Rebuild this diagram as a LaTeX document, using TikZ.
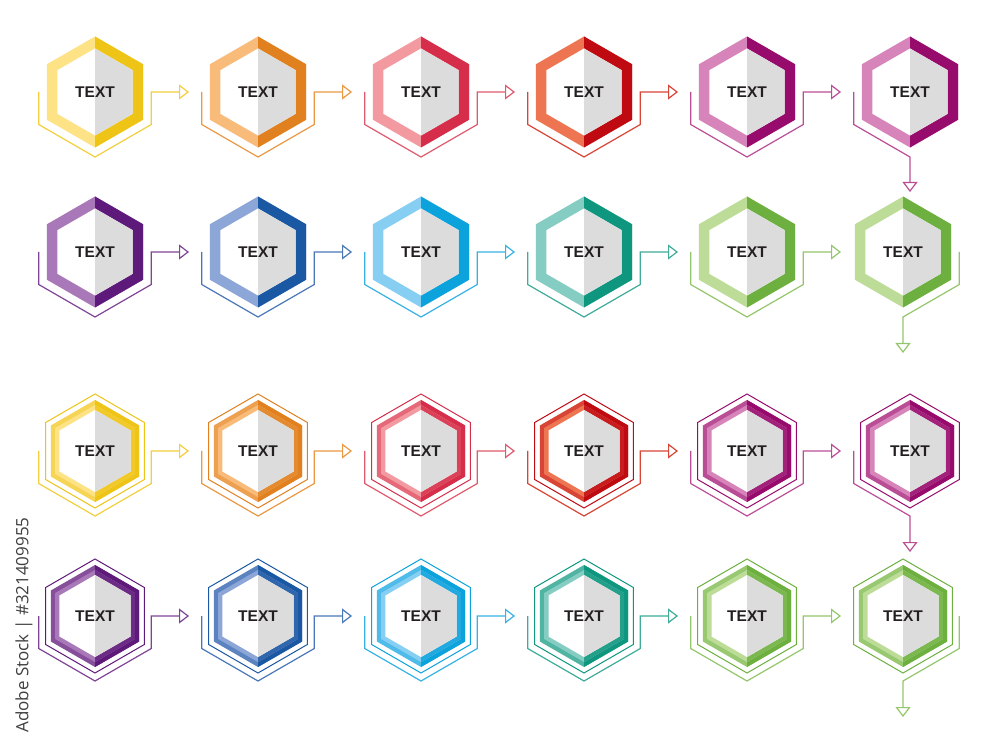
\documentclass[tikz,border=0pt]{standalone}
\usepackage{fontspec}
\setmainfont{Liberation Sans}
\newfontfamily\stockfont{Open Sans}
\usetikzlibrary{arrows.meta}

\definecolor{innergrey}{HTML}{DCDCDC}
\definecolor{textcol}{HTML}{231F20}
\definecolor{stockgrey}{HTML}{404040}
\definecolor{yelL}{HTML}{FDE286}
\definecolor{yelD}{HTML}{EEC416}
\definecolor{oraL}{HTML}{F8BB7A}
\definecolor{oraD}{HTML}{E1801F}
\definecolor{pinL}{HTML}{F29AA0}
\definecolor{pinD}{HTML}{D62E4A}
\definecolor{redL}{HTML}{EE7552}
\definecolor{redD}{HTML}{BF0A12}
\definecolor{magL}{HTML}{D684B9}
\definecolor{magD}{HTML}{970B6C}
\definecolor{purL}{HTML}{A978B8}
\definecolor{purD}{HTML}{5E1A7A}
\definecolor{bluL}{HTML}{8DA6D8}
\definecolor{bluD}{HTML}{1B58A3}
\definecolor{cyaL}{HTML}{86CFF3}
\definecolor{cyaD}{HTML}{0CA2DC}
\definecolor{teaL}{HTML}{85CCC2}
\definecolor{teaD}{HTML}{0E967E}
\definecolor{greL}{HTML}{BCDC98}
\definecolor{greD}{HTML}{6DB040}
\colorlet{yelK}{yelL!35!yelD}
\colorlet{oraK}{oraL!40!oraD}
\colorlet{pinK}{pinL!40!pinD}
\colorlet{redK}{redL!55!redD}
\colorlet{magK}{magL!55!magD}
\colorlet{purK}{purL!45!purD}
\colorlet{bluK}{bluL!40!bluD}
\colorlet{cyaK}{cyaL!35!cyaD}
\colorlet{teaK}{teaL!40!teaD}
\colorlet{greK}{greL!50!greD}

\def \outerR {55.5}
\def \innerR {43.5}
\def \frameR {57}
\def \bandR {51}
\def \midR {46}
\def \coreR {41}
\def \linkR {65}
\def \linkX {56.3}

\newcommand{\hexfull}[1]{(90:#1) -- (150:#1) -- (210:#1) -- (270:#1) -- (330:#1) -- (30:#1) -- cycle}
\newcommand{\halfright}[1]{(90:#1) -- (30:#1) -- (330:#1) -- (270:#1) -- cycle}

% name, centre, light, dark
\newcommand{\hexsolid}[4]{%
  \begin{scope}[shift={(#2)}]
    \fill[#3] \hexfull{\outerR};
    \fill[#4] \halfright{\outerR};
    \fill[white] \hexfull{\innerR};
    \fill[innergrey] \halfright{\innerR};
  \end{scope}
  \node[hexlabel] (#1) at (#2) {TEXT};
}

% name, centre, light, dark
\newcommand{\hexframed}[4]{%
  \begin{scope}[shift={(#2)}]
    \draw[#4, line width=1pt] \hexfull{\frameR};
    \fill[#3!55!#4] \hexfull{\bandR};
    \fill[#4] \halfright{\bandR};
    \fill[#3] \hexfull{\midR};
    \fill[#4!82!#3] \halfright{\midR};
    \fill[white] \hexfull{\coreR};
    \fill[innergrey] \halfright{\coreR};
  \end{scope}
  \node[hexlabel] (#1) at (#2) {TEXT};
}

% path under a hexagon, from its left side round to its right side
\newcommand{\underside}[1]{([xshift=-\linkX pt]#1.center) -- ([shift={(210:\linkR)}]#1.center) -- ([shift={(270:\linkR)}]#1.center) -- ([shift={(330:\linkR)}]#1.center) -- ([xshift=\linkX pt]#1.center)}

\tikzset{
  hexlabel/.style={font=\fontsize{15.5}{18}\selectfont\bfseries, text=textcol, inner sep=0pt},
  link/.style={line width=1.2pt, -{Triangle[open, width=15pt, length=10pt]}},
  stocklabel/.style={font=\stockfont\fontsize{17}{20}\selectfont, text=stockgrey, inner sep=0pt}
}

\begin{document}
\begin{tikzpicture}[x=1pt, y=1pt]
\fill[white] (0,0) rectangle (1000,747);
\useasboundingbox (0,0) rectangle (1000,747);

% row 1
\hexsolid{h11}{95,655}{yelL}{yelD}
\hexsolid{h12}{258,655}{oraL}{oraD}
\hexsolid{h13}{421,655}{pinL}{pinD}
\hexsolid{h14}{584,655}{redL}{redD}
\hexsolid{h15}{747,655}{magL}{magD}
\hexsolid{h16}{910,655}{magL}{magD}

% row 2
\hexsolid{h21}{95,495}{purL}{purD}
\hexsolid{h22}{258,495}{bluL}{bluD}
\hexsolid{h23}{421,495}{cyaL}{cyaD}
\hexsolid{h24}{584,495}{teaL}{teaD}
\hexsolid{h25}{747,495}{greL}{greD}
\hexsolid{h26}{903,495}{greL}{greD}

% row 3
\hexframed{h31}{95,296}{yelL}{yelD}
\hexframed{h32}{258,296}{oraL}{oraD}
\hexframed{h33}{421,296}{pinL}{pinD}
\hexframed{h34}{584,296}{redL}{redD}
\hexframed{h35}{747,296}{magL}{magD}
\hexframed{h36}{910,296}{magL}{magD}

% row 4
\hexframed{h41}{95,131}{purL}{purD}
\hexframed{h42}{258,131}{bluL}{bluD}
\hexframed{h43}{421,131}{cyaL}{cyaD}
\hexframed{h44}{584,131}{teaL}{teaD}
\hexframed{h45}{747,131}{greL}{greD}
\hexframed{h46}{903,131}{greL}{greD}

\coordinate (d16) at ([yshift=60pt]h26.center);
\coordinate (e26) at ([yshift=-101pt]h26.center);
\coordinate (d36) at ([yshift=64pt]h46.center);
\coordinate (e46) at ([yshift=-101pt]h46.center);

\draw[link, yelK] \underside{h11} -- ([xshift=-69pt]h12.center);
\draw[link, oraK] \underside{h12} -- ([xshift=-69pt]h13.center);
\draw[link, pinK] \underside{h13} -- ([xshift=-69pt]h14.center);
\draw[link, redK] \underside{h14} -- ([xshift=-69pt]h15.center);
\draw[link, magK] \underside{h15} -- ([xshift=-69pt]h16.center);
\draw[link, magK] ([xshift=-\linkX pt]h16.center) -- ([shift={(210:\linkR)}]h16.center) -- ([shift={(270:\linkR)}]h16.center) -- (h16.center |- d16);

\draw[link, purK] \underside{h21} -- ([xshift=-69pt]h22.center);
\draw[link, bluK] \underside{h22} -- ([xshift=-69pt]h23.center);
\draw[link, cyaK] \underside{h23} -- ([xshift=-69pt]h24.center);
\draw[link, teaK] \underside{h24} -- ([xshift=-69pt]h25.center);
\draw[link, greK] \underside{h25} -- ([xshift=-62pt]h26.center);
\draw[link, greK] ([xshift=\linkX pt]h26.center) -- ([shift={(330:\linkR)}]h26.center) -- ([shift={(270:\linkR)}]h26.center) -- (e26);

\draw[link, yelK] \underside{h31} -- ([xshift=-69pt]h32.center);
\draw[link, oraK] \underside{h32} -- ([xshift=-69pt]h33.center);
\draw[link, pinK] \underside{h33} -- ([xshift=-69pt]h34.center);
\draw[link, redK] \underside{h34} -- ([xshift=-69pt]h35.center);
\draw[link, magK] \underside{h35} -- ([xshift=-69pt]h36.center);
\draw[link, magK] ([xshift=-\linkX pt]h36.center) -- ([shift={(210:\linkR)}]h36.center) -- ([shift={(270:\linkR)}]h36.center) -- (h36.center |- d36);

\draw[link, purK] \underside{h41} -- ([xshift=-69pt]h42.center);
\draw[link, bluK] \underside{h42} -- ([xshift=-69pt]h43.center);
\draw[link, cyaK] \underside{h43} -- ([xshift=-69pt]h44.center);
\draw[link, teaK] \underside{h44} -- ([xshift=-69pt]h45.center);
\draw[link, greK] \underside{h45} -- ([xshift=-62pt]h46.center);
\draw[link, greK] ([xshift=\linkX pt]h46.center) -- ([shift={(330:\linkR)}]h46.center) -- ([shift={(270:\linkR)}]h46.center) -- (e46);

\node[stocklabel, rotate=90] (stockid) at (24,122) {Adobe Stock | \#321409955};
\end{tikzpicture}
\end{document}
